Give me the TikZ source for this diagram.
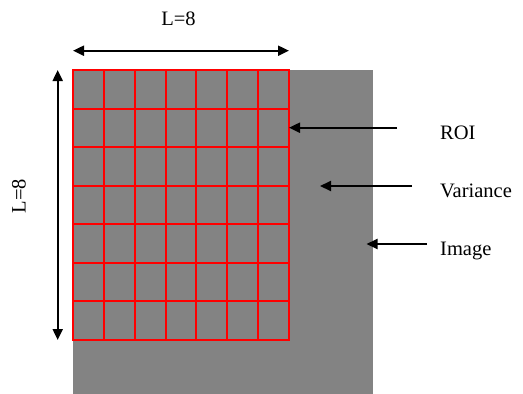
\documentclass[tikz,border=0pt]{standalone}
\usepackage{fontspec}
\setmainfont{Liberation Serif}
\usetikzlibrary{arrows.meta}
\definecolor{imggray}{RGB}{131,131,131}
\tikzset{
  lbl/.style={inner sep=0pt, font=\fontsize{20.5}{24}\selectfont},
  blackarrow/.style={line width=2pt, -{Triangle[length=11pt,width=10pt]}},
  dblarrow/.style={line width=2pt, {Triangle[length=11pt,width=10pt]}-{Triangle[length=11pt,width=10pt]}},
  gridline/.style={red, line width=2pt},
}
\begin{document}
\begin{tikzpicture}[x=1pt,y=-1pt]
\useasboundingbox (0,0) rectangle (523,394);
% image
\fill[imggray] (73,70) rectangle (373,394);
\coordinate (img) at (373,394);
% ROI grid
\foreach \i in {1,...,6} {
  \draw[gridline] ({73+\i*30.857},70) -- ({73+\i*30.857},340);
  \draw[gridline] (73,{70+\i*38.571}) -- (289,{70+\i*38.571});
}
\draw[gridline] (73,70) rectangle (289,340);
% dimension arrows
\coordinate (htl) at (73,50.7);
\coordinate (htr) at (289,50.7);
\draw[dblarrow] (htl) -- (htr);
\node[lbl, anchor=base] (ltop) at (178.5,25) {L=8};
\coordinate (vt) at (57.7,70);
\coordinate (vb) at (57.7,340);
\draw[dblarrow] (vt) -- (vb);
\node[lbl, anchor=base, rotate=90] (lleft) at (25.7,196) {L=8};
% labels
\node[lbl, anchor=base west] (roi) at (440,139.5) {ROI};
\node[lbl, anchor=base west] (var) at (440,197) {Variance};
\node[lbl, anchor=base west] (imgl) at (440,255.5) {Image};
\coordinate (roiS) at (397,127.7);
\coordinate (roiT) at (289,127.7);
\coordinate (varS) at (412,186);
\coordinate (varT) at (320,186);
\coordinate (imgS) at (427,244);
\coordinate (imgT) at (366.5,244);
\draw[blackarrow] (roiS) -- (roiT);
\draw[blackarrow] (varS) -- (varT);
\draw[blackarrow] (imgS) -- (imgT);
\end{tikzpicture}
\end{document}
